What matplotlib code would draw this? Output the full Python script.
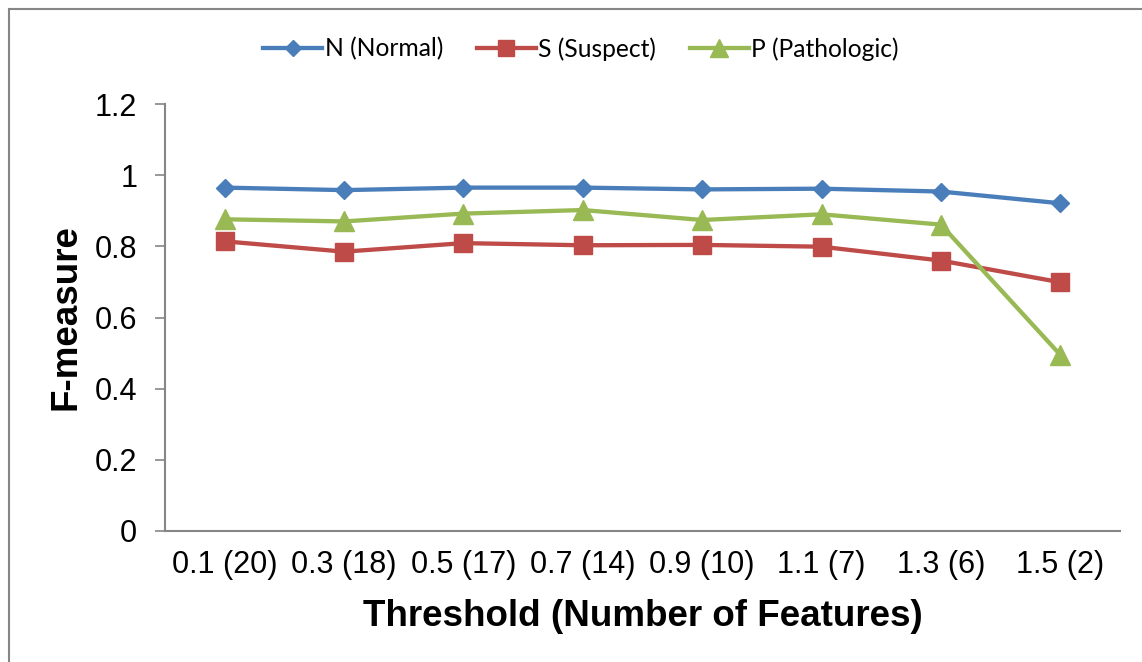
import matplotlib
matplotlib.use("Agg")
import matplotlib.pyplot as plt
from matplotlib.lines import Line2D

# data
thresholds = ["0.1 (20)", "0.3 (18)", "0.5 (17)", "0.7 (14)", "0.9 (10)", "1.1 (7)", "1.3 (6)", "1.5 (2)"]
normal = [0.965, 0.958, 0.965, 0.965, 0.960, 0.962, 0.954, 0.921]
suspect = [0.814, 0.785, 0.809, 0.803, 0.804, 0.799, 0.760, 0.699]
pathologic = [0.876, 0.870, 0.892, 0.902, 0.874, 0.890, 0.861, 0.495]
yticks = [0, 0.2, 0.4, 0.6, 0.8, 1, 1.2]
ytick_labels = ["0", "0.2", "0.4", "0.6", "0.8", "1", "1.2"]

W, H = 1142, 662
fig = plt.figure(figsize=(W / 100, H / 100), dpi=100)
ax = fig.add_axes((165 / W, 1 - 531 / H, (1120 - 165) / W, (531 - 104) / H))

x = range(len(thresholds))
ax.plot(x, normal, color="#4A7EBB", lw=3.1, marker="D", ms=9.5, label="N (Normal)")
ax.plot(x, suspect, color="#BE4B48", lw=3.1, marker="s", ms=13.5, label="S (Suspect)")
ax.plot(x, pathologic, color="#98B954", lw=3.1, marker="^", ms=14.5, label="P (Pathologic)")

ax.set_xlim(-0.5, len(thresholds) - 0.5)
ax.set_ylim(0, 1.2)
ax.set_xticks(list(x))
ax.set_xticklabels(thresholds, fontsize=22, family="Liberation Sans")
ax.set_yticks(yticks)
ax.set_yticklabels(ytick_labels, fontsize=22, family="Liberation Sans")
ax.tick_params(axis="x", length=0, pad=14)
ax.tick_params(axis="y", length=7, width=1.2, color="#868686", pad=13)

for side in ("top", "right"):
    ax.spines[side].set_visible(False)
for side in ("left", "bottom"):
    ax.spines[side].set_color("#868686")
    ax.spines[side].set_linewidth(1.5)

ax.set_xlabel("Threshold (Number of Features)", fontsize=26.5, fontweight="bold",
              family="Liberation Sans", labelpad=13)
ax.set_ylabel("F-measure", fontsize=26.5, fontweight="bold", family="Liberation Sans", labelpad=8)

leg = ax.legend(loc="center", bbox_to_anchor=(581 / W, 1 - 49 / H), bbox_transform=fig.transFigure,
                ncol=3, frameon=False, prop={"family": "Lato", "size": 17.7},
                handlelength=2.4, columnspacing=1.35, handletextpad=0.12, markerscale=0.85)

# chart-area border (only left and top edges visible in the crop)
fig.add_artist(Line2D([8.5 / W, 8.5 / W], [0, 1 - 8.5 / H], transform=fig.transFigure,
                      color="#868686", lw=1.5))
fig.add_artist(Line2D([8.5 / W, 1], [1 - 8.5 / H, 1 - 8.5 / H], transform=fig.transFigure,
                      color="#868686", lw=1.5))

fig.savefig("out.png", dpi=100)
